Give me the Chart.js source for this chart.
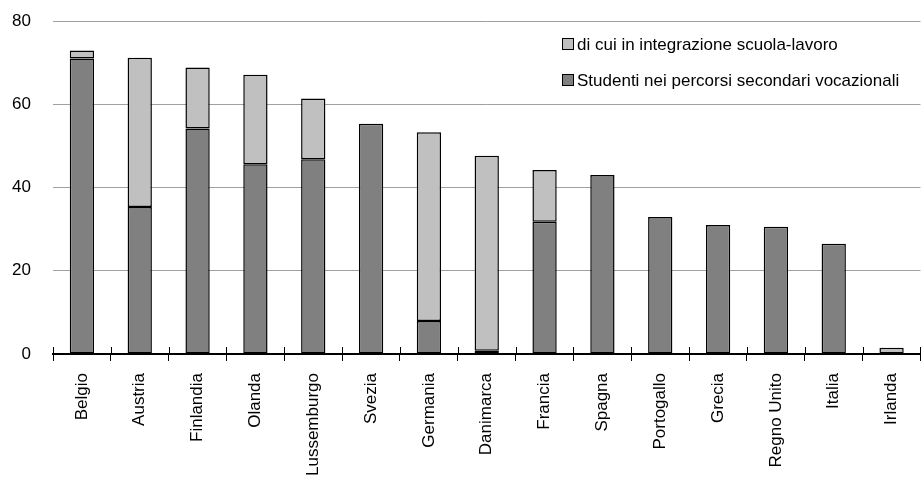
<!DOCTYPE html>
<html>
<head>
<meta charset="utf-8">
<script src="https://cdn.jsdelivr.net/npm/chart.js@4/dist/chart.umd.min.js"></script>
<style>
  html, body { margin: 0; padding: 0; background: #fff; }
  #box { width: 924px; height: 481px; }
</style>
</head>
<body>
<div id="box"><canvas id="chart"></canvas></div>
<script>
// Paesi
const paesi = ['Belgio', 'Austria', 'Finlandia', 'Olanda', 'Lussemburgo', 'Svezia', 'Germania',
  'Danimarca', 'Francia', 'Spagna', 'Portogallo', 'Grecia', 'Regno Unito', 'Italia', 'Irlanda'];

// parte scura (base della barra)
const studentiVocazionali = [71.0, 35.3, 54.2, 45.6, 46.8, 55.3, 7.9, 0.8, 31.8, 43.0, 32.9, 31.0, 30.6, 26.5, null];

// parte chiara (sopra la base)
const integrazioneScuolaLavoro = [1.9, 35.9, 14.6, 21.5, 14.6, null, 45.4, 46.8, 12.4, null, null, null, null, null, 1.5];

const yTicks = [0, 20, 40, 60, 80];

const FONT = "'Liberation Sans', Arial, sans-serif";
const FONT_SIZE = 17;

// legenda dentro l'area del grafico, in alto a destra
const legendaInterna = {
  id: 'legendaInterna',
  afterDraw(chart) {
    const ctx = chart.ctx;
    const items = [chart.data.datasets[1], chart.data.datasets[0]];
    ctx.save();
    ctx.font = FONT_SIZE + 'px ' + FONT;
    ctx.textBaseline = 'middle';
    items.forEach((ds, i) => {
      const y = 44 + i * 36;
      ctx.fillStyle = ds.backgroundColor;
      ctx.fillRect(562.5, y - 5.5, 11, 11);
      ctx.strokeStyle = '#000';
      ctx.lineWidth = 1;
      ctx.strokeRect(562.5, y - 5.5, 11, 11);
      ctx.fillStyle = '#000';
      ctx.fillText(ds.label, 577, y + 1);
    });
    ctx.restore();
  }
};

// tacche dell'asse x che attraversano la linea (anche sopra)
const tacche = {
  id: 'tacche',
  afterDraw(chart) {
    const x = chart.scales.x;
    const ctx = chart.ctx;
    const base = x.top;
    ctx.save();
    ctx.strokeStyle = '#000';
    ctx.lineWidth = 1;
    for (let i = 0; i <= paesi.length; i++) {
      const px = Math.round(x.getPixelForValue(i - 0.5)) + 0.5;
      ctx.beginPath();
      ctx.moveTo(px, base - 7);
      ctx.lineTo(px, base);
      ctx.stroke();
    }
    ctx.restore();
  }
};

new Chart(document.getElementById('chart'), {
  type: 'bar',
  data: {
    labels: paesi,
    datasets: [
      {
        label: 'Studenti nei percorsi secondari vocazionali',
        data: studentiVocazionali,
        backgroundColor: '#808080',
        borderColor: '#000',
        borderWidth: 1.5,
        borderSkipped: false,
        categoryPercentage: 1,
        barPercentage: 0.42
      },
      {
        label: 'di cui in integrazione scuola-lavoro',
        data: integrazioneScuolaLavoro,
        backgroundColor: '#c0c0c0',
        borderColor: '#000',
        borderWidth: 1.5,
        borderSkipped: false,
        categoryPercentage: 1,
        barPercentage: 0.42
      }
    ]
  },
  options: {
    responsive: true,
    maintainAspectRatio: false,
    animation: false,
    layout: { padding: { top: 21, right: 1, left: 0, bottom: 0 } },
    plugins: {
      legend: { display: false },
      tooltip: { enabled: false }
    },
    scales: {
      x: {
        stacked: true,
        afterFit(scale) { scale.height = 127; },
        grid: {
          offset: true,
          drawOnChartArea: false,
          drawTicks: true,
          tickLength: 7,
          color: '#000',
          lineWidth: 1
        },
        border: { display: true, color: '#000', width: 2 },
        ticks: {
          minRotation: 90,
          maxRotation: 90,
          autoSkip: false,
          padding: 12,
          color: '#000',
          font: { family: FONT, size: FONT_SIZE }
        }
      },
      y: {
        stacked: true,
        min: 0,
        max: 80,
        afterFit(scale) {
          scale.width = 53;
          scale.paddingTop = 0;
          scale.paddingBottom = 0;
        },
        afterBuildTicks(scale) { scale.ticks = yTicks.map(v => ({ value: v })); },
        grid: {
          drawTicks: false,
          color: (c) => c.tick && c.tick.value === 0 ? 'rgba(0,0,0,0)' : '#a0a0a0',
          lineWidth: 1
        },
        border: { display: false },
        ticks: {
          padding: 22,
          color: '#000',
          font: { family: FONT, size: FONT_SIZE }
        }
      }
    }
  },
  plugins: [legendaInterna, tacche]
});
</script>
</body>
</html>
